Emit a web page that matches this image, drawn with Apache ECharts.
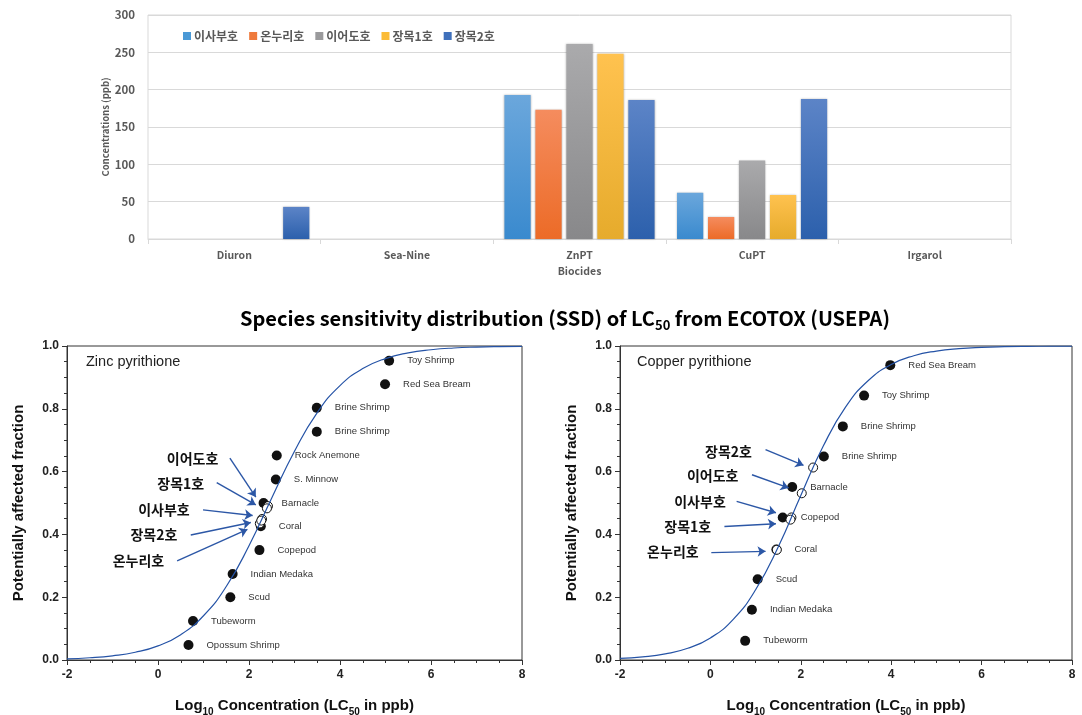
<!DOCTYPE html>
<html>
<head>
<meta charset="utf-8">
<script src="https://cdn.jsdelivr.net/npm/echarts/dist/echarts.min.js"></script>
<style>
  html, body { margin: 0; padding: 0; background: #fff; }
  #chart { width: 1082px; height: 715px; }
</style>
</head>
<body>
<div id="chart"></div>
<script>
// ---- Biocide concentrations by station (ppb) ----
const biocides = ['Diuron', 'Sea-Nine', 'ZnPT', 'CuPT', 'Irgarol'];
const stations = ['이사부호', '온누리호', '이어도호', '장목1호', '장목2호'];
const isabu    = [0, 0, 193, 62, 0];
const onnuri   = [0, 0, 173, 29.5, 0];
const ieodo    = [0, 0, 261, 105, 0];
const jangmok1 = [0, 0, 248, 59, 0];
const jangmok2 = [43, 0, 186, 187.5, 0];
const stationValues = [isabu, onnuri, ieodo, jangmok1, jangmok2];

// ---- SSD: Zinc pyrithione (log10 LC50, fraction) ----
const znSpecies  = ['Toy Shrimp', 'Red Sea Bream', 'Brine Shrimp', 'Brine Shrimp', 'Rock Anemone', 'S. Minnow',
                    'Barnacle', 'Coral', 'Copepod', 'Indian Medaka', 'Scud', 'Tubeworm', 'Opossum Shrimp'];
const znLogLC50  = [5.08, 4.99, 3.49, 3.49, 2.61, 2.59, 2.32, 2.26, 2.23, 1.64, 1.59, 0.77, 0.67];
const znFraction = [0.953, 0.878, 0.803, 0.727, 0.651, 0.575, 0.500, 0.426, 0.350, 0.274, 0.200, 0.124, 0.048];

// ---- SSD: Copper pyrithione ----
const cuSpecies  = ['Red Sea Bream', 'Toy Shrimp', 'Brine Shrimp', 'Brine Shrimp', 'Barnacle', 'Copepod',
                    'Coral', 'Scud', 'Indian Medaka', 'Tubeworm'];
const cuLogLC50  = [3.98, 3.40, 2.93, 2.51, 1.81, 1.60, 1.46, 1.045, 0.918, 0.769];
const cuFraction = [0.939, 0.842, 0.744, 0.648, 0.551, 0.454, 0.352, 0.257, 0.160, 0.061];

// ---- fitted SSD curves, sampled along log10 concentration ----
const curveLog = [-2, -1.5, -1, -0.5, 0, 0.5, 1, 1.5, 2, 2.5, 3, 3.5, 4, 4.5, 5, 5.5, 6, 6.5, 7, 7.5, 8];
const znCurve  = [0.0039, 0.0072, 0.0134, 0.0246, 0.045, 0.0808, 0.141, 0.234, 0.364, 0.516, 0.665, 0.788, 0.874,
                  0.928, 0.960, 0.978, 0.988, 0.9937, 0.9966, 0.9982, 0.9990];
const cuCurve  = [0.0052, 0.0100, 0.0195, 0.0373, 0.0703, 0.1287, 0.2237, 0.360, 0.524, 0.682, 0.8075, 0.891, 0.941,
                  0.969, 0.9839, 0.9917, 0.9957, 0.9978, 0.9989, 0.9994, 0.9997];

// fraction affected at each station's measured concentration (order follows `stations`)
const znStationFraction = [0.449, 0.435, 0.490, 0.483, 0.444];
const cuStationFraction = [0.454, 0.351, 0.531, 0.447, 0.613];

// ---- tick labels ----
const barTicks = [0, 50, 100, 150, 200, 250, 300];
const logTicks = [-2, 0, 2, 4, 6, 8];
const fracTicks = [0.0, 0.2, 0.4, 0.6, 0.8, 1.0];

// ---- styling ----
const KR = '"Noto Sans CJK KR", "Noto Sans", sans-serif';
const AR = '"Liberation Sans", Arial, sans-serif';
const GREY = '#595959';
const barColors = [
  ['#6ba7dc', '#3a8ace', '#4a99d6'],
  ['#f58c5e', '#ec6b27', '#ef7a3c'],
  ['#aaaaac', '#88888a', '#9a9a9c'],
  ['#ffc24f', '#e6ab2c', '#fbbb36'],
  ['#5c84c7', '#2c60ac', '#3f70bb']
];
const ARROW = '#2c57a6';

// annotation layout for the station call-outs (label centre, arrow start, arrow tip)
const znCallouts = [
  { name: '이어도호', text: [0.76, 0.642], from: [1.58, 0.643], to: [2.15, 0.519] },
  { name: '장목1호', text: [0.50, 0.563], from: [1.29, 0.565], to: [2.15, 0.494] },
  { name: '이사부호', text: [0.13, 0.478], from: [0.99, 0.478], to: [2.08, 0.460] },
  { name: '장목2호', text: [-0.09, 0.398], from: [0.72, 0.398], to: [2.04, 0.438] },
  { name: '온누리호', text: [-0.43, 0.316], from: [0.42, 0.316], to: [1.965, 0.416] }
];
const cuCallouts = [
  { name: '장목2호', text: [0.40, 0.665], from: [1.22, 0.670], to: [2.06, 0.620] },
  { name: '이어도호', text: [0.05, 0.586], from: [0.92, 0.590], to: [1.73, 0.548] },
  { name: '이사부호', text: [-0.23, 0.504], from: [0.58, 0.505], to: [1.45, 0.469] },
  { name: '장목1호', text: [-0.50, 0.423], from: [0.31, 0.425], to: [1.45, 0.434] },
  { name: '온누리호', text: [-0.83, 0.344], from: [0.02, 0.342], to: [1.22, 0.346] }
];

const chart = echarts.init(document.getElementById('chart'), null, { renderer: 'canvas' });

function gradient(top, bottom) {
  return { type: 'linear', x: 0, y: 0, x2: 0, y2: 1,
           colorStops: [{ offset: 0, color: top }, { offset: 1, color: bottom }] };
}

const barSeries = stations.map((s, i) => ({
  name: s,
  type: 'bar',
  xAxisIndex: 0, yAxisIndex: 0,
  data: stationValues[i],
  barGap: '18%',
  barCategoryGap: '13%',
  itemStyle: {
    color: gradient(barColors[i][0], barColors[i][1]),
    shadowBlur: 2, shadowColor: 'rgba(0,0,0,0.28)'
  }
}));

const subRich = (size, sub) => ({
  b: { fontSize: size, fontWeight: 'bold', fontFamily: AR, color: '#111', lineHeight: size + 7 },
  s: { fontSize: sub, fontWeight: 'bold', fontFamily: AR, color: '#111', lineHeight: sub + 2, verticalAlign: 'bottom' }
});

function ssdAxes(idx) {
  const x = {
    type: 'value', gridIndex: idx, min: -2, max: 8, interval: 2,
    name: '{b|Log}{s|10}{b| Concentration (LC}{s|50}{b| in ppb)}',
    nameLocation: 'middle', nameGap: 35, nameMoveOverlap: false,
    nameTextStyle: { rich: subRich(15, 10) },
    axisLine: { show: true, onZero: false, lineStyle: { color: '#333', width: 1 } },
    axisTick: { show: true, length: 5, lineStyle: { color: '#333' } },
    minorTick: { show: true, splitNumber: 4, length: 3, lineStyle: { color: '#333' } },
    splitLine: { show: false },
    axisLabel: { fontFamily: AR, fontWeight: 'bold', fontSize: 12, color: '#222', margin: 9,
                 formatter: v => logTicks.includes(v) ? String(v) : '' }
  };
  const y = {
    type: 'value', gridIndex: idx, min: 0, max: 1, interval: 0.2,
    name: 'Potentially affected fraction', nameLocation: 'middle', nameGap: 41, nameRotate: 90,
    nameMoveOverlap: false,
    nameTextStyle: { fontFamily: AR, fontWeight: 'bold', fontSize: 15, color: '#111' },
    axisLine: { show: true, onZero: false, lineStyle: { color: '#333', width: 1 } },
    axisTick: { show: true, length: 5, lineStyle: { color: '#333' } },
    minorTick: { show: true, splitNumber: 4, length: 3, lineStyle: { color: '#333' } },
    splitLine: { show: false },
    axisLabel: { fontFamily: AR, fontWeight: 'bold', fontSize: 12, color: '#222', margin: 8,
                 formatter: v => fracTicks.some(t => Math.abs(t - v) < 1e-9) ? v.toFixed(1) : '' }
  };
  return { x, y };
}

function ssdSeries(idx, curve, logs, fracs, species, stationFrac, callouts) {
  const concIndex = biocides.indexOf(idx === 1 ? 'ZnPT' : 'CuPT');
  return [
    {
      type: 'line', xAxisIndex: idx, yAxisIndex: idx, z: 4,
      data: curveLog.map((x, i) => [x, curve[i]]),
      smooth: true, showSymbol: false, silent: true,
      lineStyle: { color: '#2553a6', width: 1.2 }
    },
    {
      type: 'scatter', xAxisIndex: idx, yAxisIndex: idx, z: 2,
      data: logs.map((x, i) => ({ value: [x, fracs[i]], name: species[i] })),
      symbol: 'circle', symbolSize: 10,
      itemStyle: { color: '#111', opacity: 1 },
      label: { show: true, position: 'right', distance: 13, formatter: '{b}',
               fontFamily: AR, fontSize: 9.5, color: '#333' }
    },
    {
      name: idx === 1 ? 'ZnPT stations' : 'CuPT stations',
      type: 'scatter', xAxisIndex: idx, yAxisIndex: idx, z: 3,
      data: stations.map((s, i) => ({ value: [Math.log10(stationValues[i][concIndex]), stationFrac[i]], name: s })),
      symbol: 'circle', symbolSize: 9,
      itemStyle: { color: '#fff', borderColor: '#111', borderWidth: 1, opacity: 1 },
      markLine: {
        silent: true, symbol: ['none', 'arrow'], symbolSize: 8,
        lineStyle: { color: ARROW, width: 1.4, type: 'solid' },
        label: { show: false },
        data: callouts.map(c => [{ coord: c.from }, { coord: c.to }])
      },
      markPoint: {
        silent: true, symbol: 'circle', symbolSize: 0,
        label: { show: true, position: 'inside', formatter: '{b}',
                 fontFamily: KR, fontWeight: 'bold', fontSize: 14, color: '#111' },
        data: callouts.map(c => ({ coord: c.text, name: c.name }))
      }
    }
  ];
}

const zn = ssdAxes(1), cu = ssdAxes(2);

const option = {
  animation: false,
  backgroundColor: '#fff',
  grid: [
    { left: 148, top: 15, width: 863, height: 224, show: true, borderColor: '#d9d9d9', borderWidth: 1,
      outerBoundsMode: 'none' },
    { left: 67, top: 346, width: 455, height: 314, show: true, borderColor: '#333', borderWidth: 1,
      outerBoundsMode: 'none' },
    { left: 620, top: 346, width: 452, height: 314, show: true, borderColor: '#333', borderWidth: 1,
      outerBoundsMode: 'none' }
  ],
  legend: {
    data: stations.map((s, i) => ({ name: s, icon: 'rect', itemStyle: { color: barColors[i][2] } })),
    left: 178, top: 25, itemWidth: 8, itemHeight: 8, itemGap: 11,
    textStyle: { fontFamily: KR, fontSize: 12, fontWeight: 'bold', color: GREY, padding: [0, 0, 0, -2] },
    selectedMode: false
  },
  graphic: [
    {
      type: 'text', x: 565, y: 318,
      style: {
        text: '{t|Species sensitivity distribution (SSD) of LC}{s|50}{t| from ECOTOX (USEPA)}',
        align: 'center', verticalAlign: 'middle',
        rich: {
          t: { fontFamily: KR, fontWeight: 'bold', fontSize: 20, color: '#111', lineHeight: 28 },
          s: { fontFamily: KR, fontWeight: 'bold', fontSize: 13, color: '#111', lineHeight: 19, verticalAlign: 'bottom' }
        }
      }
    },
    { type: 'text', x: 86, y: 362, style: { text: 'Zinc pyrithione', fontFamily: AR, fontSize: 14.5, fill: '#222', verticalAlign: 'middle' } },
    { type: 'text', x: 637, y: 362, style: { text: 'Copper pyrithione', fontFamily: AR, fontSize: 14.5, fill: '#222', verticalAlign: 'middle' } }
  ],
  xAxis: [
    {
      type: 'category', gridIndex: 0, data: biocides,
      name: 'Biocides', nameLocation: 'middle', nameGap: 27, nameMoveOverlap: false,
      nameTextStyle: { fontFamily: KR, fontWeight: 'bold', fontSize: 10.5, color: GREY },
      axisLine: { lineStyle: { color: '#d9d9d9' } },
      axisTick: { show: true, alignWithLabel: false, length: 5, lineStyle: { color: '#d9d9d9' } },
      axisLabel: { fontFamily: KR, fontWeight: 'bold', fontSize: 10.5, color: GREY, margin: 11 }
    },
    zn.x, cu.x
  ],
  yAxis: [
    {
      type: 'value', gridIndex: 0, min: 0, max: 300, interval: 50,
      name: 'Concentrations (ppb)', nameLocation: 'middle', nameGap: 38, nameMoveOverlap: false,
      nameTextStyle: { fontFamily: KR, fontWeight: 'bold', fontSize: 9.5, color: GREY },
      axisLine: { show: false }, axisTick: { show: false },
      splitLine: { lineStyle: { color: '#d9d9d9' } },
      axisLabel: { fontFamily: KR, fontWeight: 'bold', fontSize: 11.5, color: GREY, margin: 13,
                   formatter: v => barTicks.includes(v) ? String(v) : '' }
    },
    zn.y, cu.y
  ],
  series: [
    ...barSeries,
    ...ssdSeries(1, znCurve, znLogLC50, znFraction, znSpecies, znStationFraction, znCallouts),
    ...ssdSeries(2, cuCurve, cuLogLC50, cuFraction, cuSpecies, cuStationFraction, cuCallouts)
  ]
};

chart.setOption(option);
</script>
</body>
</html>
